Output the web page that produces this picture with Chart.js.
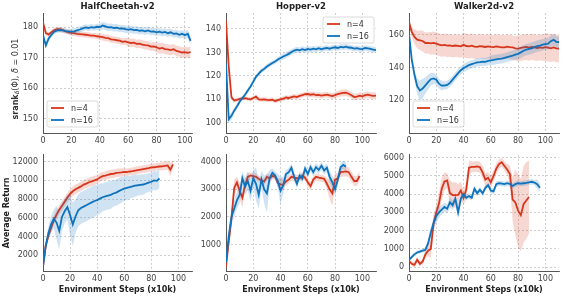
<!DOCTYPE html>
<html>
<head>
<meta charset="utf-8">
<script src="https://cdn.jsdelivr.net/npm/chart.js@4"></script>
<style>
  body { margin: 0; background: #fff; }
  #wrap { position: relative; width: 565px; height: 297px; overflow: hidden; }
  canvas { position: absolute; }
  #srankLabel {
    position: absolute; left: -34px; top: 74px; width: 100px; height: 10px;
    line-height: 10px; text-align: center; white-space: nowrap;
    transform: rotate(-90deg); font-family: "DejaVu Sans"; font-size: 8px; color: #333;
  }
  #srankLabel sub { font-size: 6px; vertical-align: -1px; }
</style>
</head>
<body>
<div id="wrap">
  <canvas id="c1"></canvas><canvas id="c2"></canvas><canvas id="c3"></canvas>
  <canvas id="c4"></canvas><canvas id="c5"></canvas><canvas id="c6"></canvas>
  <div id="srankLabel"><b>srank</b><sub><i>δ</i></sub>(Φ), <i>δ</i> = 0.01</div>
</div>
<script>
// sample positions (x10k env steps)
const steps = [0,2,4,6,8,10,12,14,16,18,20,22,24,26,28,30,32,34,36,38,40,42,44,46,48,50,52,54,56,58,
  60,62,64,66,68,70,72,74,76,78,80,82,84,86,88,90,92,94,96,98,100,102,104,106,108,110];

const seriesLabels = ['n=4', 'n=16'];
const xTicks = [0, 20, 40, 60, 80, 100];
const cheetahRankTicks = [150, 160, 170, 180];
const hopperRankTicks = [100, 110, 120, 130, 140];
const walkerRankTicks = [120, 140, 160];
const cheetahReturnTicks = [2000, 4000, 6000, 8000, 10000, 12000];
const hopperReturnTicks = [1000, 2000, 3000, 4000];
const walkerReturnTicks = [0, 1000, 2000, 3000, 4000, 5000, 6000];

// --- srank, HalfCheetah ---
const cheetahRankN4 = [181.6,178.0,177.6,178.3,179.0,179.3,179.3,179.0,178.6,178.3,
  178.1,178.0,177.8,177.7,177.6,177.5,177.4,177.2,177.2,177.0,
  176.9,176.7,176.5,176.4,176.0,175.9,175.7,175.6,175.2,175.3,
  175.0,174.8,174.9,174.5,174.6,174.3,174.1,174.0,173.6,173.7,
  173.4,173.0,173.2,172.8,172.7,172.5,172.8,172.2,172.0,171.7,
  171.8,171.6,171.8];
const cheetahRankN4Spread = [0.4,0.8,0.8,0.8,0.8,0.8,0.8,0.8,0.8,0.8,
  0.9,0.9,0.9,0.9,0.9,0.9,0.9,0.9,0.9,0.9,
  1.1,1.1,1.1,1.1,1.1,1.1,1.1,1.1,1.1,1.1,
  1.4,1.4,1.4,1.4,1.4,1.4,1.4,1.4,1.4,1.4,
  1.7,1.7,1.7,1.7,1.7,1.7,1.7,1.7,1.7,1.7,
  1.8,1.8,1.8];
const cheetahRankN16 = [177.5,174.0,176.3,177.5,178.5,178.9,179.0,178.9,178.7,178.6,
  178.5,178.6,178.9,179.2,179.6,179.9,179.7,180.0,179.8,180.1,
  180.0,180.5,180.2,179.9,180.0,179.7,179.8,179.5,179.6,179.3,
  179.2,179.3,179.0,179.1,178.8,178.9,178.6,178.9,178.5,178.6,
  178.3,178.5,178.2,178.4,178.0,178.3,177.8,177.9,177.5,177.8,
  177.3,177.8,175.5];
const cheetahRankN16Spread = [0.5,1.0,1.0,0.9,0.8,0.8,0.8,0.8,0.8,0.8,
  1.0,1.0,1.0,1.0,1.0,1.0,1.0,1.0,1.0,1.0,
  1.2,1.2,1.2,1.2,1.2,1.2,1.2,1.2,1.2,1.2,
  1.2,1.2,1.2,1.2,1.2,1.2,1.2,1.2,1.2,1.2,
  1.2,1.2,1.2,1.2,1.2,1.2,1.2,1.2,1.2,1.2,
  1.3,1.4,1.5];

// --- srank, Hopper ---
const hopperRankN4 = [143.5,124.0,111.0,109.5,109.8,110.2,110.4,110.5,110.2,110.0,
  110.6,111.2,110.0,109.9,110.0,109.8,109.7,109.9,109.3,109.7,
  110.0,110.3,110.8,110.6,111.0,111.3,111.0,111.5,111.8,112.2,
  112.3,112.0,112.2,111.8,111.9,111.6,111.8,112.0,111.7,111.4,
  111.8,112.3,112.6,112.8,112.9,112.4,111.8,111.0,111.2,111.6,
  111.3,111.8,112.0,111.7,111.5,111.6];
const hopperRankN4Spread = [1.0,1.0,0.8,0.8,0.8,0.8,0.8,0.8,0.8,0.8,
  0.9,0.9,0.9,0.9,0.9,0.9,0.9,0.9,0.9,0.9,
  1.0,1.0,1.0,1.0,1.0,1.0,1.0,1.0,1.0,1.0,
  1.2,1.2,1.2,1.2,1.2,1.2,1.2,1.2,1.2,1.2,
  1.4,1.4,1.4,1.4,1.4,1.4,1.4,1.4,1.4,1.4,
  1.4,1.4,1.4,1.4,1.4,1.4];
const hopperRankN16 = [125.4,101.5,103.0,105.2,107.0,109.0,110.6,112.0,113.8,115.5,
  117.6,119.6,121.0,122.2,123.0,124.0,124.8,125.5,126.1,127.0,
  127.6,128.3,128.8,129.4,130.2,130.8,131.2,130.9,131.4,131.0,
  131.5,131.2,131.6,131.3,131.8,131.3,131.7,131.9,131.6,132.0,
  132.2,131.9,132.4,132.2,132.5,132.1,132.0,131.6,131.8,131.5,
  131.4,131.9,131.7,131.5,131.2,131.0];
const hopperRankN16Spread = [1.5,1.8,1.5,1.2,1.0,1.0,1.0,1.0,1.0,1.0,
  1.0,1.0,1.0,1.0,1.0,1.0,1.0,1.0,1.0,1.0,
  1.2,1.2,1.2,1.2,1.2,1.2,1.2,1.2,1.2,1.2,
  1.2,1.2,1.2,1.2,1.2,1.2,1.2,1.2,1.2,1.2,
  1.2,1.2,1.2,1.2,1.2,1.2,1.2,1.2,1.2,1.2,
  1.2,1.2,1.2,1.2,1.2,1.2];

// --- srank, Walker2d ---
const walkerRankN4 = [168.0,161.8,158.8,157.1,156.7,156.3,155.0,155.1,154.8,155.1,
  154.7,154.1,153.6,153.9,153.4,153.6,153.2,153.5,153.3,153.0,
  153.9,153.2,153.0,153.4,152.8,152.7,153.1,152.9,152.6,153.0,
  152.7,152.5,152.9,152.6,152.4,152.4,152.8,152.5,152.3,151.8,
  151.6,152.0,152.4,152.6,152.2,152.7,152.3,152.0,152.4,152.1,
  152.5,152.2,151.8,152.3,151.7,151.6];
const walkerRankN4Spread = [1.0,3.0,4.5,5.5,6.0,6.5,6.5,6.5,7.0,7.0,
  7.0,7.0,7.0,7.0,7.0,7.0,7.0,7.0,7.0,7.0,
  7.5,7.5,7.5,7.5,7.5,7.5,7.5,7.5,7.5,7.5,
  7.5,7.5,7.5,7.5,7.5,7.5,7.5,7.5,7.5,7.5,
  8.0,8.0,8.0,8.0,8.0,8.0,8.0,8.0,8.0,8.0,
  8.5,8.5,8.5,8.5,8.5,8.5];
const walkerRankN16 = [160.8,145.0,135.5,128.5,125.9,127.0,129.0,131.0,132.8,133.3,
  132.5,130.0,128.8,128.9,129.3,130.5,132.5,134.5,136.5,138.3,
  139.6,140.6,141.4,142.0,142.6,143.1,143.3,143.6,143.4,144.0,
  144.3,144.6,145.0,145.3,145.5,145.9,146.4,146.9,147.3,147.9,
  148.4,149.3,150.3,151.0,151.4,151.8,152.5,153.1,153.5,154.0,
  154.4,154.6,156.2,157.0,155.8,155.5];
const walkerRankN16Spread = [1.0,2.0,3.0,5.0,6.0,6.0,5.0,4.5,4.0,3.5,
  3.0,3.0,3.0,2.5,2.5,2.5,2.5,2.5,2.5,2.5,
  2.5,2.5,2.5,2.5,2.5,2.5,2.5,2.5,2.5,2.5,
  3.0,3.0,3.0,3.0,3.0,3.0,3.0,3.0,3.0,3.0,
  3.5,3.5,3.5,3.5,3.5,3.5,3.5,3.5,3.5,3.5,
  3.5,3.5,3.5,3.5,3.5,3.5];

// --- average return, HalfCheetah ---
const cheetahReturnN4 = [800,3000,4100,4950,5750,6340,6860,7280,7730,8180,
  8550,8840,9050,9200,9360,9550,9650,9800,9900,10000,
  10100,10300,10450,10500,10600,10680,10700,10800,10820,10850,
  10900,10880,10950,10980,11050,11100,11150,11200,11250,11300,
  11380,11400,11450,11480,11500,11550,11600,11150,11700];
const cheetahReturnN4Spread = [200,300,400,450,500,500,500,500,500,500,
  500,500,500,500,500,500,500,500,500,500,
  450,450,450,450,450,450,450,450,450,450,
  400,400,400,400,400,400,400,400,400,400,
  400,400,400,400,450,450,500,700,400];
const cheetahReturnN16 = [800,3000,4400,5300,5900,5500,4600,6100,6700,7150,
  6300,5300,6150,6800,7050,7200,7350,7500,7650,7800,
  7900,8050,8200,8300,8380,8450,8600,8700,8850,9000,
  9120,9200,9280,9350,9450,9480,9520,9560,9650,9750,
  9850,10000,9950,10200];
const cheetahReturnN16Spread = [200,500,700,900,1000,1800,2000,1500,1300,1300,
  2200,2300,1800,1700,1700,1700,1700,1700,1700,1700,
  1600,1600,1500,1500,1500,1500,1400,1400,1400,1400,
  1300,1300,1200,1200,1200,1100,1100,1100,1000,1000,
  1000,1000,1000,1000];

// --- average return, Hopper ---
const hopperReturnN4 = [200,1100,1950,3050,3250,2950,2700,3150,3450,3500,
  3480,3450,3380,3320,3280,3450,3400,3480,3470,3230,
  3170,3180,3280,3350,3450,3420,3400,3400,3500,3420,
  3250,3110,3350,3450,3420,3400,3380,3200,3000,2850,
  3350,3400,3630,3630,3650,3620,3450,3300,3300,3480];
const hopperReturnN4Spread = [100,200,300,300,200,300,350,250,150,120,
  120,120,120,120,120,120,120,120,120,150,
  250,200,130,130,130,130,130,130,130,130,
  130,150,130,130,130,130,130,200,350,450,
  250,180,180,180,180,180,180,180,180,180];
const hopperReturnN16 = [350,1300,2000,2300,2600,2800,3400,3100,3300,2950,
  3400,3200,2800,3350,3000,2850,3400,3600,3500,3300,
  2950,3150,3550,3620,3780,3450,3200,3500,3380,3750,
  3550,3800,3620,3800,3700,3850,3680,3780,3450,3250,
  3000,3350,3800,3880,3820];
const hopperReturnN16Spread = [100,250,300,300,300,300,250,300,350,400,
  300,600,500,300,500,700,300,150,150,250,
  500,300,150,150,150,150,150,150,150,150,
  150,150,150,150,150,150,150,150,200,250,
  250,200,150,150,150];

// --- average return, Walker2d ---
const walkerReturnN4 = [350,180,120,400,180,300,700,900,1000,2400,
  3000,3500,4300,4700,4750,4050,3950,3950,3960,4200,
  3800,4250,5450,5500,5500,5520,5480,5200,4800,4900,
  4650,5000,5400,5650,5750,5550,5350,5100,3700,3550,
  3100,2850,3450,3650,3850];
const walkerReturnN4Spread = [100,100,150,150,150,150,200,300,500,500,
  400,600,600,500,400,700,700,700,600,500,
  400,500,400,300,300,300,300,350,350,300,
  350,300,300,250,250,250,300,500,1200,1800,
  2000,2000,2100,2100,2000];
const walkerReturnN16 = [400,550,700,800,850,900,950,1300,1900,2400,
  2800,3000,3150,3300,3200,3550,3400,3750,3000,3750,
  4000,3800,3900,3800,4300,4050,4250,4050,4350,4500,
  4200,4150,4550,4600,4580,4550,4600,4560,4450,4550,
  4600,4580,4600,4620,4650,4680,4640,4550,4350];
const walkerReturnN16Spread = [100,100,100,100,100,100,150,200,300,300,
  350,300,250,250,250,300,250,250,300,250,
  150,150,150,150,150,150,150,150,150,150,
  150,150,150,150,150,150,150,150,150,150,
  150,150,150,150,150,150,150,250,250];

const RED = 'rgb(216,54,28)', RED_FILL = 'rgba(216,54,28,0.2)';
const BLUE = 'rgb(14,114,189)', BLUE_FILL = 'rgba(14,114,189,0.2)';
const FONT = '"DejaVu Sans", sans-serif';

function linePts(mean, shift) {
  return mean.map((v, i) => ({ x: steps[i], y: shift ? v + shift[i] : v }));
}

function seriesDatasets(mean, spread, color, fillColor, orderBase) {
  return [
    { data: linePts(mean, spread.map(s => -s)), borderWidth: 0, borderColor: 'transparent',
      pointRadius: 0, fill: false, order: orderBase + 1 },
    { data: linePts(mean, spread), borderWidth: 0, borderColor: 'transparent',
      pointRadius: 0, fill: '-1', backgroundColor: fillColor, order: orderBase + 1 },
    { data: linePts(mean), borderColor: color, borderWidth: 1.8, pointRadius: 0,
      fill: false, order: orderBase }
  ];
}

// draws subplot titles and the in-axes legend
const decor = {
  id: 'decor',
  afterDatasetsDraw(chart, args, o) {
    const ctx = chart.ctx, a = chart.chartArea;
    ctx.save();
    if (o.title) {
      ctx.font = 'bold 8.5px ' + FONT;
      ctx.fillStyle = '#222';
      ctx.textAlign = 'center';
      ctx.textBaseline = 'middle';
      ctx.fillText(o.title, (a.left + a.right) / 2, a.top - 6);
    }
    if (o.legend) {
      const w = 51, h = 26;
      const bx = o.legend === 'bl' ? a.left + 4 : a.right - 2 - w;
      const by = o.legend === 'bl' ? a.bottom - 6 - h : a.top + 4;
      ctx.beginPath();
      ctx.roundRect(bx, by, w, h, 2);
      ctx.fillStyle = 'rgba(255,255,255,0.85)';
      ctx.fill();
      ctx.strokeStyle = 'rgba(0,0,0,0.18)';
      ctx.lineWidth = 0.8;
      ctx.stroke();
      [RED, BLUE].forEach((c, i) => {
        const y = by + 7 + i * 12;
        ctx.strokeStyle = c;
        ctx.lineWidth = 1.8;
        ctx.beginPath();
        ctx.moveTo(bx + 4, y);
        ctx.lineTo(bx + 17, y);
        ctx.stroke();
        ctx.fillStyle = '#333';
        ctx.font = '8px ' + FONT;
        ctx.textAlign = 'left';
        ctx.textBaseline = 'middle';
        ctx.fillText(seriesLabels[i], bx + 24, y + 0.5);
      });
    }
    ctx.restore();
  }
};

const rows = [
  { top: 0, height: 145, axTop: 13, axBottom: 133 },
  { top: 145, height: 152, axTop: 152, axBottom: 271 }
];
const cols = [
  { left: 0, width: 202, axLeft: 43, axRight: 192 },
  { left: 192, width: 194, axLeft: 226, axRight: 376 },
  { left: 376, width: 189, axLeft: 409, axRight: 559 }
];

const panels = [
  { id: 'c1', row: 0, col: 0, title: 'HalfCheetah-v2', xMax: 105, yMin: 145.4, yMax: 184.6, yTicks: cheetahRankTicks,
    n4: [cheetahRankN4, cheetahRankN4Spread], n16: [cheetahRankN16, cheetahRankN16Spread], legend: 'bl' },
  { id: 'c2', row: 0, col: 1, title: 'Hopper-v2', xMax: 110, yMin: 95.7, yMax: 146.8, yTicks: hopperRankTicks,
    n4: [hopperRankN4, hopperRankN4Spread], n16: [hopperRankN16, hopperRankN16Spread], legend: 'tr' },
  { id: 'c3', row: 0, col: 2, title: 'Walker2d-v2', xMax: 110, yMin: 99.7, yMax: 173.5, yTicks: walkerRankTicks,
    n4: [walkerRankN4, walkerRankN4Spread], n16: [walkerRankN16, walkerRankN16Spread], legend: 'bl' },
  { id: 'c4', row: 1, col: 0, xMax: 110, yMin: 330, yMax: 12730, yTicks: cheetahReturnTicks, yTitle: 'Average Return',
    n4: [cheetahReturnN4, cheetahReturnN4Spread], n16: [cheetahReturnN16, cheetahReturnN16Spread] },
  { id: 'c5', row: 1, col: 1, xMax: 110, yMin: 47, yMax: 4247, yTicks: hopperReturnTicks,
    n4: [hopperReturnN4, hopperReturnN4Spread], n16: [hopperReturnN16, hopperReturnN16Spread] },
  { id: 'c6', row: 1, col: 2, xMax: 110, yMin: -214, yMax: 6161, yTicks: walkerReturnTicks,
    n4: [walkerReturnN4, walkerReturnN4Spread], n16: [walkerReturnN16, walkerReturnN16Spread] }
];

panels.forEach(p => {
  const r = rows[p.row], c = cols[p.col];
  const canvas = document.getElementById(p.id);
  canvas.width = c.width; canvas.height = r.height;
  canvas.style.left = c.left + 'px'; canvas.style.top = r.top + 'px';
  canvas.style.width = c.width + 'px'; canvas.style.height = r.height + 'px';
  const xTitle = p.row === 1 ? 'Environment Steps (x10k)' : '';
  const gridOpts = { color: 'rgba(0,0,0,0.28)', lineWidth: 0.7, drawTicks: false };
  const borderOpts = { color: '#555', width: 1, dash: [2, 2] };
  const tickFont = { family: FONT, size: 8 };

  new Chart(canvas, {
    type: 'line',
    data: {
      datasets: [
        ...seriesDatasets(p.n4[0], p.n4[1], RED, RED_FILL, 3),
        ...seriesDatasets(p.n16[0], p.n16[1], BLUE, BLUE_FILL, 1)
      ]
    },
    options: {
      responsive: false,
      animation: false,
      layout: { padding: { top: r.axTop - r.top, right: c.left + c.width - c.axRight, left: 0, bottom: 0 } },
      plugins: {
        legend: { display: false },
        tooltip: { enabled: false },
        decor: { title: p.title, legend: p.legend }
      },
      scales: {
        x: {
          type: 'linear', min: 0, max: p.xMax,
          afterBuildTicks: s => { s.ticks = xTicks.map(v => ({ value: v })); },
          afterFit: s => { s.height = r.top + r.height - r.axBottom; },
          grid: gridOpts, border: borderOpts,
          ticks: { font: tickFont, color: '#444', padding: 3, maxRotation: 0, autoSkip: false, callback: v => v },
          title: { display: !!xTitle, text: xTitle, color: '#222',
                   font: { family: FONT, size: 8, weight: 'bold' }, padding: { top: 0, bottom: 2 } }
        },
        y: {
          type: 'linear', min: p.yMin, max: p.yMax,
          afterBuildTicks: s => { s.ticks = p.yTicks.map(v => ({ value: v })); },
          afterFit: s => { s.width = c.axLeft - c.left; },
          grid: gridOpts, border: borderOpts,
          ticks: { font: tickFont, color: '#444', padding: 5, autoSkip: false, callback: v => v },
          title: { display: !!p.yTitle, text: p.yTitle || '', color: '#222',
                   font: { family: FONT, size: 8, weight: 'bold' }, padding: { top: 2, bottom: 0 } }
        }
      }
    },
    plugins: [decor]
  });
});
</script>
</body>
</html>
